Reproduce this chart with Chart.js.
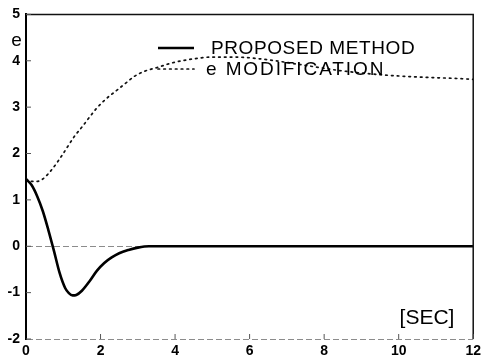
<!DOCTYPE html>
<html><head><meta charset="utf-8">
<script src="https://cdn.jsdelivr.net/npm/chart.js@4/dist/chart.umd.min.js"></script>
<style>html,body{margin:0;padding:0;background:#fff;}#wrap{width:485px;height:363px;}</style>
</head><body><div id="wrap"><canvas id="c" width="485" height="363"></canvas></div>
<script>
const seriesLabels = ['PROPOSED METHOD', 'e MODIFICATION'];
const proposedTime = [0, 0.15, 0.3, 0.45, 0.6, 0.75, 0.9, 1.05, 1.15, 1.25, 1.35, 1.5, 1.7, 1.9, 2.1, 2.3, 2.5, 2.75, 3.0, 3.3, 4, 6, 8, 10, 12];
const proposedValues = [1.45, 1.32, 1.08, 0.76, 0.35, -0.1, -0.57, -0.9, -1.01, -1.06, -1.05, -0.96, -0.76, -0.53, -0.36, -0.24, -0.15, -0.08, -0.03, 0, 0, 0, 0, 0, 0];
const eModTime = [0, 0.15, 0.3, 0.45, 0.7, 0.95, 1.3, 1.5, 1.7, 1.9, 2.15, 2.4, 2.65, 2.9, 3.2, 3.5, 3.9, 4.4, 5, 5.6, 6.5, 7.5, 8.5, 9.5, 10.5, 11.5, 12];
const eModValues = [1.45, 1.40, 1.40, 1.45, 1.66, 1.94, 2.37, 2.57, 2.78, 2.98, 3.18, 3.34, 3.5, 3.66, 3.78, 3.85, 3.95, 4.03, 4.08, 4.08, 4.02, 3.9, 3.78, 3.7, 3.65, 3.62, 3.6];
const xTickValues = [0, 2, 4, 6, 8, 10, 12];
const yTickValues = [-2, -1, 0, 1, 2, 3, 4, 5];
const yAxisLabel = 'e';
const xAxisLabel = '[SEC]';

const FONT = "'Liberation Sans', Arial, Helvetica, sans-serif";

function pts(xs, ys) { return xs.map((x, i) => ({x: x, y: ys[i]})); }

const framePlugin = {
  id: 'frame',
  afterDraw(chart) {
    const {ctx, chartArea: a, scales} = chart;
    ctx.save();
    ctx.strokeStyle = '#111';
    ctx.lineWidth = 1.5;
    ctx.beginPath();
    ctx.moveTo(a.left, a.top); ctx.lineTo(a.right, a.top); ctx.lineTo(a.right, a.bottom);
    ctx.stroke();
    ctx.strokeStyle = '#555';
    ctx.lineWidth = 1;
    yTickValues.forEach(v => {
      const y = scales.y.getPixelForValue(v);
      ctx.beginPath(); ctx.moveTo(a.left, y); ctx.lineTo(a.left + 5, y); ctx.stroke();
    });
    xTickValues.forEach(v => {
      if (v === 0) return;
      const x = scales.x.getPixelForValue(v);
      ctx.beginPath(); ctx.moveTo(x, a.bottom); ctx.lineTo(x, a.bottom - 5); ctx.stroke();
    });
    ctx.fillStyle = '#000';
    ctx.font = '19px ' + FONT;
    ctx.textAlign = 'center'; ctx.textBaseline = 'middle';
    ctx.fillText(yAxisLabel, 16.5, 41);
    ctx.font = '21px ' + FONT;
    ctx.fillText(xAxisLabel, 427, 318);
    const items = [
      {y: 48, ds: chart.data.datasets[0], x: 211, sp: '0.6px'},
      {y: 69, ds: chart.data.datasets[1], x: 206, sp: '1.9px'}
    ];
    ctx.font = '19px ' + FONT;
    ctx.textAlign = 'left';
    items.forEach(it => {
      ctx.save();
      ctx.strokeStyle = it.ds.borderColor;
      ctx.lineWidth = it.ds.borderWidth;
      ctx.setLineDash(it.ds.borderDash || []);
      ctx.lineCap = it.ds.borderCapStyle || 'butt';
      ctx.beginPath(); ctx.moveTo(158, it.y); ctx.lineTo(194, it.y); ctx.stroke();
      ctx.restore();
      ctx.save();
      try { ctx.letterSpacing = it.sp; } catch (e) {}
      ctx.fillStyle = '#000';
      ctx.fillText(it.ds.label, it.x, it.y + 1);
      ctx.restore();
    });
    ctx.restore();
  }
};

new Chart(document.getElementById('c'), {
  type: 'line',
  data: {
    datasets: [
      {
        label: seriesLabels[0],
        data: pts(proposedTime, proposedValues),
        borderColor: '#000',
        borderWidth: 2.6,
        pointRadius: 0,
        cubicInterpolationMode: 'monotone',
        fill: false
      },
      {
        label: seriesLabels[1],
        data: pts(eModTime, eModValues),
        borderColor: '#111',
        borderWidth: 1.7,
        borderDash: [1.6, 4.2],
        borderCapStyle: 'round',
        pointRadius: 0,
        cubicInterpolationMode: 'monotone',
        fill: false
      }
    ]
  },
  options: {
    responsive: false,
    animation: false,
    devicePixelRatio: 1,
    layout: {padding: {top: 12, right: 10, left: 0, bottom: 0}},
    plugins: {legend: {display: false}, tooltip: {enabled: false}},
    scales: {
      x: {
        type: 'linear', min: 0, max: 12,
        afterFit(s) { s.height = 24; },
        afterBuildTicks(s) { s.ticks = xTickValues.map(v => ({value: v})); },
        ticks: {color: '#000', font: {family: FONT, size: 14, weight: 'bold'}, padding: 4, maxRotation: 0},
        grid: {display: false, drawTicks: false},
        border: {display: false}
      },
      y: {
        type: 'linear', min: -2, max: 5,
        afterFit(s) { s.width = 26; },
        afterBuildTicks(s) { s.ticks = yTickValues.map(v => ({value: v})); },
        ticks: {color: '#000', font: {family: FONT, size: 14, weight: 'bold'}, padding: 6},
        grid: {
          drawTicks: false,
          lineWidth: 1,
          color: c => (c.tick && (c.tick.value === 0 || c.tick.value === -2)) ? '#8c8c8c' : 'rgba(0,0,0,0)'
        },
        border: {display: true, color: '#000', width: 2, dash: [6, 3]}
      }
    }
  },
  plugins: [framePlugin]
});
</script>
</body></html>
